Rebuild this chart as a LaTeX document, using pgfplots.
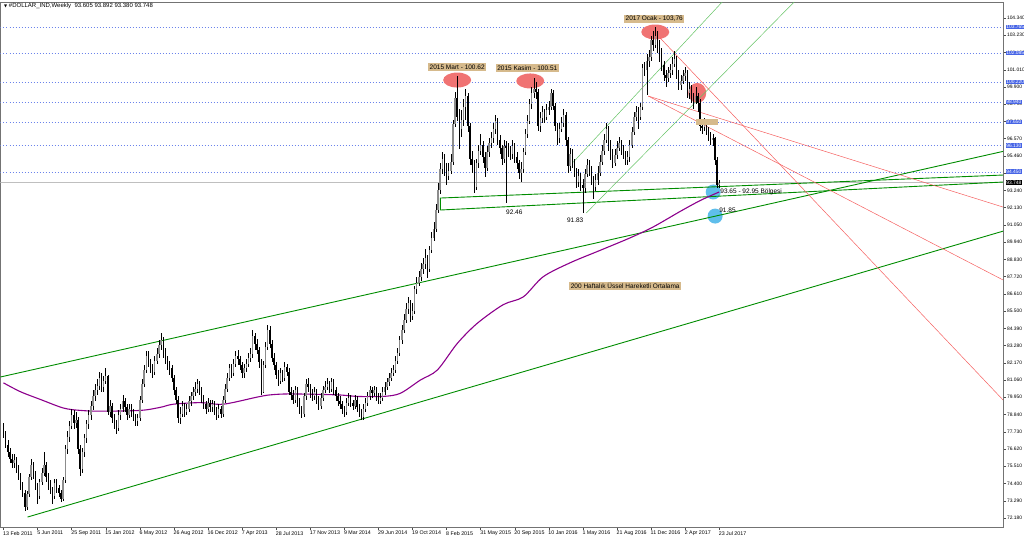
\documentclass[border=0pt]{standalone}
\usepackage{fontspec}
\setmainfont{Liberation Sans}
\newfontfamily\symfont{DejaVu Sans}
\usepackage{pgfplots}
\usepackage{pgfplotstable}
\pgfplotsset{compat=1.18}
\definecolor{lvlblue}{RGB}{70,100,230}
\definecolor{tanbox}{RGB}{214,186,140}
\definecolor{ellred}{RGB}{240,115,115}
\definecolor{circblue}{RGB}{95,190,235}
\definecolor{maviolet}{RGB}{140,0,140}
\definecolor{trgreen}{RGB}{0,140,0}
\definecolor{ltgreen}{RGB}{100,195,100}
\definecolor{trred}{RGB}{245,95,95}

\pgfplotstableread{
i o h l c
0 77.9 78.3 77.3 77.6
1 77.6 77.8 76.7 76.9
2 76.9 77.2 76.1 76.4
3 76.4 76.7 75.7 76.0
4 76.0 76.3 75.4 75.7
5 75.7 76.3 75.4 75.9
6 75.9 76.1 75.1 75.4
7 75.4 75.6 74.6 74.9
8 74.9 75.1 74.0 74.3
9 74.3 74.5 73.5 73.8
10 73.8 74.0 72.6 72.9
11 72.9 73.9 72.7 73.7
12 73.7 75.0 73.5 74.8
13 74.8 76.0 74.6 75.6
14 75.6 75.8 74.7 75.0
15 75.0 75.2 74.0 74.2
16 74.2 74.4 73.1 73.6
17 73.6 74.7 73.4 74.5
18 74.5 75.4 74.3 75.1
19 75.1 76.4 74.9 75.6
20 75.6 75.8 74.5 74.8
21 74.8 75.1 74.0 74.3
22 74.3 74.6 73.7 74.0
23 74.0 74.2 73.1 73.6
24 73.6 74.7 73.4 74.4
25 74.4 74.7 73.8 74.1
26 74.1 74.3 73.5 73.8
27 73.8 74.0 73.2 73.4
28 73.4 74.8 73.3 74.6
29 74.6 76.9 74.4 76.6
30 76.6 77.8 76.3 77.4
31 77.4 78.4 77.1 78.1
32 78.1 79.2 77.9 78.8
33 78.8 79.1 77.9 78.3
34 78.3 79.0 78.0 78.5
35 78.5 78.7 76.3 76.6
36 76.6 76.9 74.9 75.3
37 75.3 76.7 75.1 76.4
38 76.4 77.6 76.1 77.3
39 77.3 78.5 77.0 78.2
40 78.2 79.1 77.9 78.8
41 78.8 79.7 78.5 79.4
42 79.4 80.4 79.1 80.0
43 80.0 80.8 79.7 80.4
44 80.4 81.1 80.1 80.7
45 80.7 81.6 80.4 81.2
46 81.2 81.5 80.3 80.6
47 80.6 81.3 80.3 81.0
48 81.0 81.8 80.8 81.3
49 81.3 81.4 78.8 79.0
50 79.0 79.8 78.7 79.4
51 79.4 79.6 78.3 78.6
52 78.6 78.9 77.9 78.2
53 78.2 78.5 77.6 78.0
54 78.0 79.1 77.8 78.8
55 78.8 79.5 78.5 79.2
56 79.2 80.1 79.0 79.7
57 79.7 79.9 79.0 79.3
58 79.3 79.5 78.5 78.8
59 78.8 79.5 78.6 79.2
60 79.2 79.5 78.7 79.0
61 79.0 79.2 78.4 78.7
62 78.7 78.9 78.1 78.4
63 78.4 78.9 78.1 78.6
64 78.6 80.0 78.4 79.8
65 79.8 81.1 79.6 80.8
66 80.8 82.0 80.6 81.7
67 81.7 82.9 81.5 82.6
68 82.6 82.9 81.9 82.2
69 82.2 82.4 81.5 81.9
70 81.9 82.1 81.2 81.6
71 81.6 82.6 81.4 82.3
72 82.3 83.1 82.1 82.7
73 82.7 83.6 82.5 83.3
74 83.3 84.1 83.0 83.6
75 83.6 83.8 82.5 82.8
76 82.8 83.1 82.1 82.4
77 82.4 82.6 81.7 82.0
78 82.0 82.3 81.4 81.8
79 81.8 82.0 80.9 81.2
80 81.2 81.4 80.1 80.4
81 80.4 80.6 79.5 79.8
82 79.8 80.0 78.3 78.6
83 78.6 79.3 78.2 78.9
84 78.9 79.7 78.7 79.4
85 79.4 79.6 78.7 79.0
86 79.0 79.5 78.8 79.2
87 79.2 80.0 79.0 79.7
88 79.7 80.3 79.4 80.0
89 80.0 80.6 79.8 80.3
90 80.3 80.9 80.0 80.5
91 80.5 81.1 80.2 80.8
92 80.8 81.0 80.1 80.4
93 80.4 80.6 79.6 79.9
94 79.9 80.1 79.2 79.5
95 79.5 79.7 78.9 79.2
96 79.2 79.9 79.0 79.6
97 79.6 79.8 79.0 79.3
98 79.3 79.8 79.0 79.5
99 79.5 79.7 78.8 79.1
100 79.1 79.3 78.5 78.8
101 78.8 79.5 78.6 79.2
102 79.2 79.4 78.6 78.9
103 78.9 80.0 78.7 79.8
104 79.8 80.8 79.6 80.5
105 80.5 81.5 80.3 81.2
106 81.2 82.1 81.0 81.8
107 81.8 82.1 81.2 81.5
108 81.5 82.4 81.3 82.1
109 82.1 82.9 81.9 82.6
110 82.6 83.0 82.0 82.4
111 82.4 82.6 81.7 82.0
112 82.0 82.2 81.2 81.5
113 81.5 82.1 81.2 81.8
114 81.8 82.4 81.6 82.1
115 82.1 82.8 81.9 82.5
116 82.5 83.1 82.2 82.7
117 82.7 84.3 82.5 83.9
118 83.9 84.1 83.0 83.4
119 83.4 83.7 82.7 83.0
120 83.0 83.2 81.8 82.2
121 82.2 82.4 80.1 80.3
122 80.3 82.3 80.2 82.0
123 82.0 83.5 81.8 83.2
124 83.2 84.6 83.0 84.3
125 84.3 84.5 83.1 83.4
126 83.4 83.6 82.2 82.5
127 82.5 82.8 81.7 82.0
128 82.0 82.2 81.1 81.4
129 81.4 81.7 80.7 81.0
130 81.0 81.8 80.8 81.5
131 81.5 81.7 80.9 81.2
132 81.2 82.2 81.0 81.9
133 81.9 82.1 81.3 81.6
134 81.6 81.8 80.1 80.3
135 80.3 80.6 79.8 80.1
136 80.1 80.4 79.5 79.8
137 79.8 80.7 79.6 80.4
138 80.4 80.6 79.3 79.6
139 79.6 79.9 78.9 79.2
140 79.2 79.4 78.6 78.9
141 78.9 80.2 78.7 80.0
142 80.0 81.1 79.8 80.8
143 80.8 81.2 80.3 80.6
144 80.6 80.8 79.9 80.2
145 80.2 80.5 79.7 80.0
146 80.0 80.6 79.8 80.3
147 80.3 80.5 79.5 79.8
148 79.8 80.0 79.1 79.4
149 79.4 80.2 79.2 79.9
150 79.9 80.7 79.7 80.4
151 80.4 81.0 80.2 80.6
152 80.6 81.2 80.4 80.8
153 80.8 81.0 80.2 80.5
154 80.5 81.2 80.3 80.9
155 80.9 81.1 80.1 80.4
156 80.4 80.6 79.7 80.0
157 80.0 80.2 79.4 79.7
158 79.7 80.0 79.2 79.5
159 79.5 79.7 78.9 79.2
160 79.2 79.4 78.7 79.0
161 79.0 79.9 78.8 79.6
162 79.6 80.2 79.4 79.9
163 79.9 80.1 79.3 79.6
164 79.6 79.8 79.1 79.4
165 79.4 80.1 79.2 79.8
166 79.8 80.0 79.0 79.3
167 79.3 79.5 78.7 79.0
168 79.0 79.2 78.5 78.7
169 78.7 79.5 78.5 79.2
170 79.2 79.9 79.0 79.6
171 79.6 80.3 79.4 80.0
172 80.0 80.7 79.8 80.4
173 80.4 80.6 79.9 80.2
174 80.2 80.7 80.0 80.4
175 80.4 80.6 79.7 80.0
176 80.0 80.2 79.5 79.7
177 79.7 80.2 79.5 79.9
178 79.9 80.6 79.7 80.3
179 80.3 80.9 80.1 80.6
180 80.6 81.2 80.4 80.9
181 80.9 81.5 80.7 81.2
182 81.2 81.8 81.0 81.5
183 81.5 82.0 81.3 81.7
184 81.7 82.6 81.5 82.3
185 82.3 83.1 82.1 82.8
186 82.8 83.9 82.6 83.6
187 83.6 84.6 83.4 84.3
188 84.3 85.3 84.1 84.9
189 84.9 86.0 84.7 85.6
190 85.6 86.4 85.3 86.0
191 86.0 86.2 84.8 85.2
192 85.2 86.0 84.9 85.5
193 85.5 87.1 85.3 86.9
194 86.9 87.7 86.6 87.3
195 87.3 88.1 87.1 87.7
196 87.7 88.6 87.4 88.2
197 88.2 88.9 87.9 88.5
198 88.5 89.5 88.2 88.9
199 88.9 89.1 87.6 88.2
200 88.2 89.7 88.0 89.4
201 89.4 90.6 89.2 90.2
202 90.2 91.2 90.0 90.8
203 90.8 92.4 90.6 92.0
204 92.0 93.7 91.8 93.3
205 93.3 95.0 93.0 94.6
206 94.6 95.7 94.3 95.3
207 95.3 95.6 94.2 94.8
208 94.8 95.0 93.6 94.2
209 94.2 95.0 93.9 94.5
210 94.5 95.6 94.3 95.1
211 95.1 97.8 94.9 97.5
212 97.5 99.6 97.3 99.2
213 99.2 100.62 97.7 98.0
214 98.0 98.5 95.9 97.2
215 97.2 98.4 96.7 97.8
216 97.8 99.1 97.4 98.6
217 98.6 99.8 97.8 99.3
218 99.3 99.5 97.0 97.4
219 97.4 97.6 94.9 95.3
220 95.3 95.8 94.4 94.9
221 94.9 95.2 93.1 93.5
222 93.5 95.3 93.3 95.0
223 95.0 96.2 94.7 95.8
224 95.8 96.9 95.5 96.2
225 96.2 96.4 95.0 95.4
226 95.4 95.7 94.1 94.7
227 94.7 96.1 94.5 95.7
228 95.7 96.6 95.4 96.3
229 96.3 97.0 96.0 96.6
230 96.6 97.6 96.3 97.2
231 97.2 98.1 96.9 97.7
232 97.7 97.9 96.2 96.5
233 96.5 96.8 95.6 96.0
234 96.0 96.2 94.9 95.3
235 95.3 96.5 95.0 96.1
236 96.1 96.4 92.46 96.0
237 96.0 96.3 95.4 95.8
238 95.8 96.1 95.2 95.6
239 95.6 96.5 95.3 96.1
240 96.1 96.3 95.0 95.4
241 95.4 95.7 94.6 95.0
242 95.0 95.2 94.0 94.4
243 94.4 95.1 93.8 94.6
244 94.6 96.0 94.4 95.7
245 95.7 97.2 95.5 96.9
246 96.9 98.1 96.6 97.7
247 97.7 99.1 97.5 98.8
248 98.8 99.9 98.5 99.5
249 99.5 100.51 99.2 99.8
250 99.8 100.2 99.1 99.6
251 99.6 99.8 97.1 97.4
252 97.4 98.3 97.0 97.9
253 97.9 98.7 97.6 98.3
254 98.3 98.5 97.6 98.0
255 98.0 98.8 97.8 98.4
256 98.4 99.0 98.1 98.6
257 98.6 99.8 98.4 99.5
258 99.5 99.7 98.4 98.7
259 98.7 98.9 97.1 97.4
260 97.4 97.6 96.2 96.6
261 96.6 97.6 96.3 97.2
262 97.2 98.0 97.0 97.6
263 97.6 98.5 97.3 98.1
264 98.1 98.3 96.1 96.5
265 96.5 96.7 94.4 94.8
266 94.8 96.0 94.5 95.6
267 95.6 95.9 94.7 95.1
268 95.1 95.3 94.1 94.5
269 94.5 94.7 93.4 93.8
270 93.8 94.6 93.5 94.2
271 94.2 94.4 93.2 93.6
272 93.6 94.0 91.83 93.4
273 93.4 94.6 93.1 94.3
274 94.3 95.3 94.1 94.9
275 94.9 95.2 94.2 94.6
276 94.6 94.8 93.6 94.0
277 94.0 94.2 92.7 93.5
278 93.5 94.3 93.2 93.9
279 93.9 94.8 93.6 94.4
280 94.4 95.5 94.2 95.1
281 95.1 96.2 94.9 95.8
282 95.8 96.9 95.5 96.5
283 96.5 97.6 96.3 97.2
284 97.2 97.4 95.8 96.2
285 96.2 96.5 95.2 95.6
286 95.6 95.9 94.7 95.0
287 95.0 95.9 94.8 95.5
288 95.5 96.4 95.3 96.0
289 96.0 96.7 95.8 96.3
290 96.3 96.5 95.5 95.9
291 95.9 96.2 95.3 95.6
292 95.6 95.8 94.9 95.2
293 95.2 95.8 94.9 95.4
294 95.4 96.5 95.1 96.2
295 96.2 97.3 96.0 97.0
296 97.0 98.3 96.8 98.0
297 98.0 98.7 97.7 98.3
298 98.3 98.6 97.2 98.0
299 98.0 98.9 97.8 98.6
300 98.6 101.4 98.4 101.1
301 101.1 101.5 100.6 101.0
302 101.0 102.0 99.4 101.6
303 101.6 102.3 101.2 101.8
304 101.8 103.2 101.6 102.9
305 102.9 103.5 102.2 102.6
306 102.6 103.76 102.4 103.2
307 103.2 103.5 102.1 102.5
308 102.5 102.9 101.5 102.2
309 102.2 102.4 100.9 101.3
310 101.3 101.6 100.3 100.7
311 100.7 101.0 99.9 100.5
312 100.5 101.2 100.2 100.8
313 100.8 101.4 100.5 101.0
314 101.0 101.8 100.7 101.4
315 101.4 102.2 101.2 101.7
316 101.7 101.9 100.4 100.8
317 100.8 101.0 99.7 100.0
318 100.0 100.7 99.7 100.3
319 100.3 101.0 100.1 100.6
320 100.6 101.2 100.3 100.8
321 100.8 101.0 99.2 99.5
322 99.5 100.2 99.1 99.8
323 99.8 100.0 98.9 99.2
324 99.2 99.5 98.5 99.0
325 99.0 99.9 98.8 99.3
326 99.3 99.5 98.3 98.9
327 98.9 99.1 97.1 97.4
328 97.4 97.8 96.9 97.3
329 97.3 97.9 97.1 97.6
330 97.6 97.8 96.8 97.1
331 97.1 97.3 96.4 96.8
332 96.8 97.0 96.2 96.5
333 96.5 96.9 96.1 96.6
334 96.6 96.7 94.9 95.2
335 95.2 95.4 93.4 93.6
336 93.605 93.892 93.380 93.748
}\candles

\begin{document}
\begin{tikzpicture}[font=\fontsize{6.5}{7.5}\selectfont]
\useasboundingbox (0,0) rectangle (1024pt,542pt);
\begin{axis}[
  at={(0.5pt,15pt)}, anchor=south west,
  scale only axis, width=1002.5pt, height=525pt,
  xmin=-1.408, xmax=469.27, ymin=71.60, ymax=105.37,
  clip mode=individual,
  axis line style={black!55, line width=0.6pt},
  tick align=outside, major tick length=3pt,
  tick style={black!70, line width=0.4pt},
  xtick pos=bottom, ytick pos=right,
  xtick={0,16,...,336},
  xticklabels={13 Feb 2011, 5 Jun 2011, 25 Sep 2011, 15 Jan 2012, 6 May 2012, 26 Aug 2012, 16 Dec 2012, 7 Apr 2013, 28 Jul 2013, 17 Nov 2013, 9 Mar 2014, 29 Jun 2014, 19 Oct 2014, 8 Feb 2015, 31 May 2015, 20 Sep 2015, 10 Jan 2016, 1 May 2016, 21 Aug 2016, 11 Dec 2016, 2 Apr 2017, 23 Jul 2017},
  xticklabel style={anchor=north west, inner sep=1pt, xshift=-1.5pt, font=\fontsize{5.3}{6}\selectfont},
  ytick={72.18,73.289,74.398,75.507,76.616,77.725,78.834,79.943,81.052,82.161,83.27,84.379,85.488,86.597,87.706,88.815,89.924,91.033,92.142,93.251,94.36,95.469,96.578,97.687,98.796,99.905,101.014,102.123,103.232,104.341},
  yticklabels={72.180,73.290,74.400,75.510,76.620,77.730,78.840,79.950,81.060,82.170,83.280,84.390,85.500,86.610,87.720,88.830,89.940,91.050,92.130,93.240,94.350,95.460,96.570,97.680,98.790,99.900,101.010,102.120,103.230,104.340},
  yticklabel pos=right,
  yticklabel style={anchor=west, inner sep=0.8pt, font=\fontsize{4.9}{5.5}\selectfont},
]
% level lines
\addplot[lvlblue!80, line width=0.5pt, dash pattern=on 1pt off 2pt] coordinates {(-1.408,103.765) (469.27,103.765)};
\addplot[lvlblue!80, line width=0.5pt, dash pattern=on 1pt off 2pt] coordinates {(-1.408,102.085) (469.27,102.085)};
\addplot[lvlblue!80, line width=0.5pt, dash pattern=on 1pt off 2pt] coordinates {(-1.408,100.22) (469.27,100.22)};
\addplot[lvlblue!80, line width=0.5pt, dash pattern=on 1pt off 2pt] coordinates {(-1.408,98.94) (469.27,98.94)};
\addplot[lvlblue!80, line width=0.5pt, dash pattern=on 1pt off 2pt] coordinates {(-1.408,97.65) (469.27,97.65)};
\addplot[lvlblue!80, line width=0.5pt, dash pattern=on 1pt off 2pt] coordinates {(-1.408,96.13) (469.27,96.13)};
\addplot[lvlblue!80, line width=0.5pt, dash pattern=on 1pt off 2pt] coordinates {(-1.408,94.45) (469.27,94.45)};
\addplot[black!25, line width=0.5pt] coordinates {(-1.408,93.748) (469.27,93.748)};

% highlight shapes
\fill[ellred] (axis cs:213,100.35) ellipse [x radius=14pt, y radius=7.5pt];
\fill[ellred] (axis cs:247.3,100.29) ellipse [x radius=14pt, y radius=7.5pt];
\fill[ellred] (axis cs:306,103.44) ellipse [x radius=14pt, y radius=7.5pt];
\fill[ellred] (axis cs:325.7,99.52) ellipse [x radius=9pt, y radius=10pt];
\fill[circblue] (axis cs:333.2,93.15) circle [radius=7.5pt];
\fill[circblue] (axis cs:334.1,91.6) circle [radius=7.5pt];

% trend lines
\addplot[trgreen, line width=0.9pt] coordinates {(11.26,72.24) (469.27,90.63)};
\addplot[trgreen, line width=0.9pt] coordinates {(-1.408,81.25) (469.27,95.76)};
\addplot[trgreen, line width=0.9pt] coordinates {(205.07,91.99) (205.07,92.76) (469.27,94.24)};
\addplot[trgreen, line width=0.9pt] coordinates {(205.07,91.99) (469.27,93.79)};
\addplot[ltgreen, line width=0.5pt] coordinates {(267.5,95.07) (337.4,105.37)};
\addplot[ltgreen, line width=0.5pt] coordinates {(273.6,91.8) (371.2,105.37)};
\addplot[trred, line width=0.5pt] coordinates {(308.3,103.05) (469.27,79.77)};
\addplot[trred, line width=0.5pt] coordinates {(302.7,99.32) (469.27,87.49)};
\addplot[trred, line width=0.5pt] coordinates {(302.7,99.32) (469.27,92.18)};

% moving average
\addplot[maviolet, line width=1.1pt, smooth, mark=none] coordinates {
(0,80.87) (8,80.3) (17.4,79.8) (28.2,79.25) (36.1,79.1) (45.5,79.05) (64.3,79.1) (73.7,79.3) (79.8,79.5) (92.4,79.6) (103.2,79.5) (119.2,79.96) (125.3,80.1) (134.7,80.16) (156.7,80.1) (166.1,80.0) (178.3,80.0) (186.3,80.2) (195.7,81.05) (203.7,81.7) (213.0,83.4) (222.4,84.7) (234.6,85.9) (244.0,86.4) (253.4,87.7) (266.1,88.6) (280.2,89.4) (294.2,90.2) (305.0,90.9) (317.7,91.9) (327.1,92.6) (336,93.15)};

% candles
\addplot[draw=none, mark=none, error bars/.cd, y dir=both, y explicit, error mark=none, error bar style={draw=black, line width=0.5pt}]
  table[x=i, y expr={(\thisrow{h}+\thisrow{l})/2}, y error expr={(\thisrow{h}-\thisrow{l})/2}] {\candles};
\addplot[draw=none, mark=none, error bars/.cd, y dir=both, y explicit, error mark=none, error bar style={draw=black!45, line width=1.4pt}]
  table[x=i, y expr={\thisrow{c}>=\thisrow{o} ? (\thisrow{o}+\thisrow{c})/2 : nan}, y error expr={max(abs(\thisrow{c}-\thisrow{o})/2,0.03)}] {\candles};
\addplot[draw=none, mark=none, error bars/.cd, y dir=both, y explicit, error mark=none, error bar style={draw=black, line width=1.4pt}]
  table[x=i, y expr={\thisrow{c}<\thisrow{o} ? (\thisrow{o}+\thisrow{c})/2 : nan}, y error expr={max(abs(\thisrow{c}-\thisrow{o})/2,0.03)}] {\candles};

% annotations
\node[fill=tanbox, inner sep=1.5pt] at (axis cs:213,101.19) {2015 Mart - 100.62};
\node[fill=tanbox, inner sep=1.5pt] at (axis cs:245.9,101.12) {2015 Kasim - 100.51};
\node[fill=tanbox, inner sep=1.5pt] at (axis cs:305.5,104.28) {2017 Ocak - 103,76};
\fill[tanbox] (axis cs:330.4,97.65) ++(-11pt,-3pt) rectangle ++(22pt,6pt);
\node[inner sep=0pt] at (axis cs:239.8,91.86) {92.46};
\node[inner sep=0pt] at (axis cs:268.4,91.35) {91.83};
\node[anchor=west, inner sep=0pt] at (axis cs:336.5,93.15) {93.65 - 92.95 Bölgesi};
\node[anchor=west, inner sep=0pt] at (axis cs:336,92.0) {91.85};
\node[fill=tanbox, inner sep=1.5pt] at (axis cs:291.9,87.10) {200 Haftalık Üssel Hareketli Ortalama};

\coordinate (R1) at (axis cs:469.27,103.765);
\coordinate (R2) at (axis cs:469.27,102.085);
\coordinate (R3) at (axis cs:469.27,100.22);
\coordinate (R4) at (axis cs:469.27,98.94);
\coordinate (R5) at (axis cs:469.27,97.65);
\coordinate (R6) at (axis cs:469.27,96.13);
\coordinate (R7) at (axis cs:469.27,94.45);
\coordinate (R8) at (axis cs:469.27,93.748);
\end{axis}
\foreach \c/\t in {R1/103.765,R2/102.085,R3/100.220,R4/98.940,R5/97.650,R6/96.130,R7/94.450}{
  \node[anchor=west, fill=lvlblue, text=white, inner sep=0.6pt, font=\fontsize{4.9}{5.5}\selectfont] at ([xshift=2.5pt]\c) {\t};
}
\node[anchor=west, fill=black, text=white, inner sep=0.6pt, font=\fontsize{4.9}{5.5}\selectfont] at ([xshift=2.5pt]R8) {93.748};
\node[anchor=north west, inner sep=0pt, font=\fontsize{6}{7}\selectfont] at (4pt,539pt) {{\symfont\fontsize{4}{5}\selectfont ▼}\ \#DOLLAR\_IND,Weekly\ \ 93.605 93.892 93.380 93.748};
\end{tikzpicture}
\end{document}
